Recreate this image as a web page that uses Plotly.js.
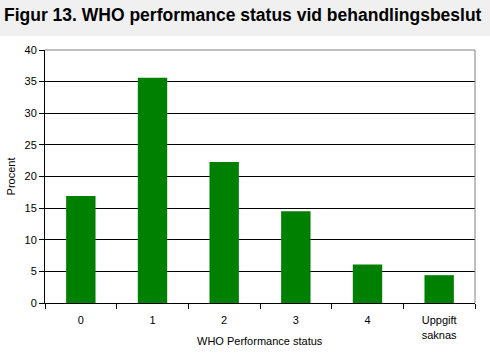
<!DOCTYPE html>
<html>
<head>
<meta charset="utf-8">
<script src="https://cdn.plot.ly/plotly-3.0.1.min.js"></script>
<style>html,body{margin:0;padding:0;background:#fff;}#chart{width:490px;height:353px;}</style>
</head>
<body>
<div id="chart"></div>
<script>
const categories = ["0", "1", "2", "3", "4", "Uppgift<br>saknas"];
const values = [16.9, 35.6, 22.3, 14.5, 6.1, 4.4];
const yTicks = [0, 5, 10, 15, 20, 25, 30, 35, 40];

const font = "Arial, 'Liberation Sans', sans-serif";
const trace = {
  type: "bar",
  x: categories,
  y: values,
  width: 0.41,
  marker: {color: "#008000", line: {width: 0}},
  hoverinfo: "none"
};

const layout = {
  width: 490, height: 353,
  margin: {l: 45, r: 15, t: 50, b: 50},
  paper_bgcolor: "#ffffff",
  plot_bgcolor: "#ffffff",
  showlegend: false,
  title: {
    text: "<b>Figur 13. WHO performance status vid behandlingsbeslut</b>",
    font: {family: font, size: 17.5, color: "#000"},
    x: 4/490, xanchor: "left", xref: "container",
    y: 1 - 15/353, yanchor: "middle", yref: "container"
  },
  xaxis: {
    type: "category",
    showline: true, linecolor: "#000", linewidth: 1,
    ticks: "outside", ticklen: 5, tickcolor: "#000",
    tickson: "boundaries",
    ticklabelstandoff: 7,
    showgrid: false,
    tickfont: {family: font, size: 11, color: "#000"},
    automargin: false,
    fixedrange: true
  },
  yaxis: {
    range: [0, 40],
    tickvals: yTicks,
    showline: true, linecolor: "#000", linewidth: 1,
    ticks: "outside", ticklen: 5, tickcolor: "#000",
    showgrid: true, gridcolor: "#000", gridwidth: 1,
    zeroline: false,
    tickfont: {family: font, size: 11, color: "#000"},
    title: {text: "Procent", font: {family: font, size: 11, color: "#000"}, standoff: 6},
    automargin: false,
    fixedrange: true
  },
  annotations: [
    {text: "WHO Performance status", xref: "paper", yref: "paper", x: 0.5, y: (303-341)/253,
     xanchor: "center", yanchor: "middle", showarrow: false,
     font: {family: font, size: 11, color: "#000"}}
  ],
  shapes: [
    {type: "rect", xref: "paper", yref: "paper", x0: -0.2, x1: 1.1, y0: (303-36)/253, y1: 1.3,
     fillcolor: "#f0f0f0", line: {width: 0}, layer: "below"},
    {type: "line", xref: "paper", yref: "paper", x0: 0, x1: 1, y0: 1, y1: 1,
     line: {color: "#808080", width: 1}, layer: "above"},
    {type: "line", xref: "paper", yref: "paper", x0: 1, x1: 1, y0: 0, y1: 1,
     line: {color: "#808080", width: 1}, layer: "above"}
  ]
};

Plotly.newPlot("chart", [trace], layout, {displayModeBar: false, staticPlot: true});
</script>
</body>
</html>
